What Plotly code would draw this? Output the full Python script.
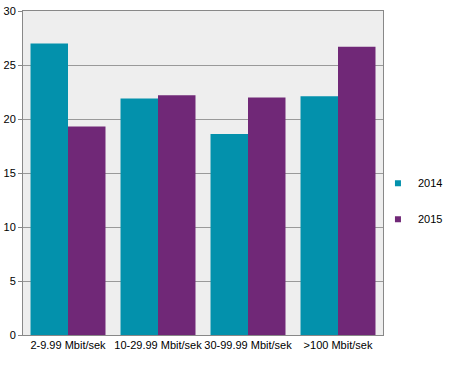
import plotly.graph_objects as go

categories = ["2-9.99 Mbit/sek", "10-29.99 Mbit/sek", "30-99.99 Mbit/sek", ">100 Mbit/sek"]
values_2014 = [27.0, 21.9, 18.6, 22.1]
values_2015 = [19.3, 22.2, 22.0, 26.7]
y_ticks = [0, 5, 10, 15, 20, 25, 30]

c14 = "#0391ac"
c15 = "#702877"

fig = go.Figure()
fig.add_trace(go.Bar(x=categories, y=values_2014, name="2014", marker_color=c14,
                     marker_line_width=0, showlegend=False))
fig.add_trace(go.Bar(x=categories, y=values_2015, name="2015", marker_color=c15,
                     marker_line_width=0, showlegend=False))
# legend entries with small square markers
fig.add_trace(go.Scatter(x=[None], y=[None], mode="markers", name="2014",
                         marker=dict(symbol="square", size=6, color=c14),
                         legendgroup="a"))
fig.add_trace(go.Scatter(x=[None], y=[None], mode="markers", name="2015",
                         marker=dict(symbol="square", size=6, color=c15),
                         legendgroup="b"))

fig.update_layout(
    width=451, height=371,
    margin=dict(l=23, r=68, t=11, b=36, autoexpand=False),
    paper_bgcolor="white",
    plot_bgcolor="#eeeeee",
    barmode="group",
    bargap=0.167,
    bargroupgap=0,
    font=dict(family="Liberation Sans, Arial, sans-serif", size=11, color="black"),
    legend=dict(x=0.986, xanchor="left", y=0.413, yanchor="middle",
                traceorder="grouped", tracegroupgap=17,
                itemwidth=30, font=dict(size=11), bgcolor="rgba(0,0,0,0)"),
    showlegend=True,
)
fig.update_xaxes(showline=True, linecolor="#888888", linewidth=1, mirror=True,
                 ticks="", showgrid=False, tickfont=dict(size=11), tickangle=0,
                 automargin=False)
fig.update_yaxes(range=[0, 30], tickvals=y_ticks, showline=True, linecolor="#888888",
                 linewidth=1, mirror=True, ticks="outside", ticklen=4, tickcolor="#888888",
                 showgrid=True, gridcolor="#999999", gridwidth=1, zeroline=False,
                 tickfont=dict(size=11), automargin=False)

# remove the default 8px page margin so the figure sits at the window's corner
fig.write_html("out.html", config={"displayModeBar": False},
               post_script="document.body.style.margin='0px';")
